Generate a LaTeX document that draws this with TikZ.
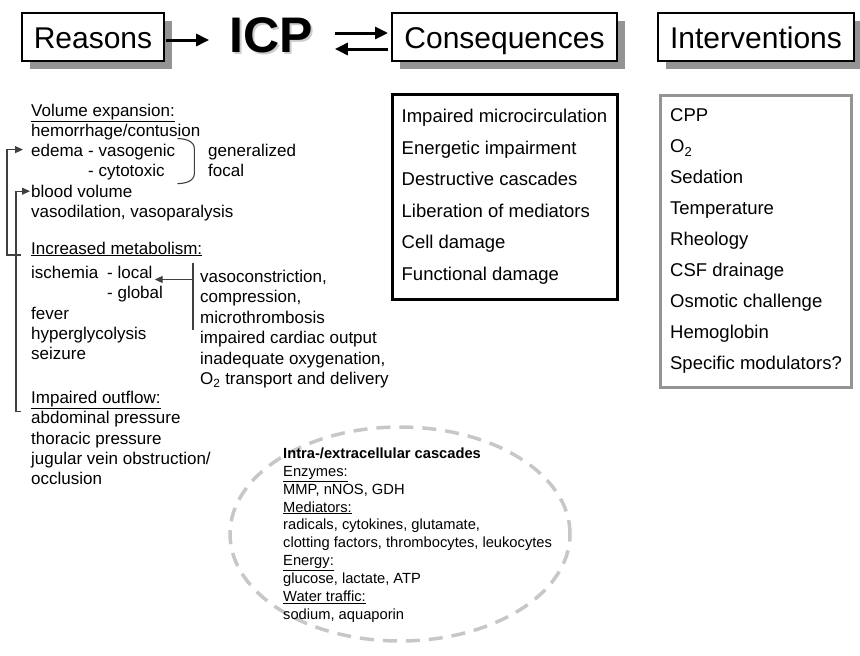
\documentclass[tikz,border=0pt]{standalone}
\usepackage{fontspec}
\setmainfont{Liberation Sans}
\usetikzlibrary{positioning, arrows.meta, shapes.geometric, shadows, calc}

\begin{document}
\begin{tikzpicture}[
    x=1pt, y=-1pt,
    headbox/.style={rectangle, draw, line width=2pt, fill=white, minimum height=48pt, inner sep=0pt,
        text height=24pt, text depth=2pt, font=\fontsize{30}{36}\selectfont,
        drop shadow={shadow xshift=8pt, shadow yshift=-8pt, fill=black!42, opacity=1}},
    listbox/.style={rectangle, draw, line width=3pt, align=left, inner xsep=9pt},
    icpfont/.style={inner sep=0pt, font=\fontsize{50}{60}\selectfont\bfseries},
    txt/.style={anchor=base west, inner sep=0pt, font=\fontsize{17}{20.3}\selectfont},
    conn/.style={draw=black!75, line width=1.1pt},
    conntip/.style={-{Triangle[length=8pt, width=7pt]}},
    bigarrow/.style={line width=3pt, -{Triangle[length=13pt, width=12pt]}},
    cascring/.style={ellipse, draw=black!22, line width=3.5pt, dash pattern=on 14pt off 9pt}
]
\useasboundingbox (0,0) rectangle (860,656);

% Header row
\node[headbox, minimum width=142pt] (reasons) at (93,37) {Reasons};
\node[icpfont, text=black!20] (icpshadow) at (273,37) {ICP};
\node[icpfont] (icp) at (271,35) {ICP};
\node[headbox, minimum width=225pt] (conshead) at (504.5,37) {Consequences};
\node[headbox, minimum width=196pt] (inthead) at (756,37) {Interventions};

\draw[bigarrow] ($(reasons.east)+(1,3)$) -- ($(icp.west |- reasons.east)+(-20,3)$);
\draw[bigarrow] ($(icp.east |- conshead.west)+(22,-4)$) -- ($(conshead.west)+(-3,-4)$);
\draw[bigarrow] ($(conshead.west)+(-3,12)$) -- ($(icp.east |- conshead.west)+(22,12)$);

% Consequences and interventions
\node[listbox, minimum width=225pt, inner ysep=15pt, font=\fontsize{18.5}{31.5}\selectfont,
    below=31pt of conshead] (cons) {Impaired microcirculation\\ Energetic impairment\\ Destructive cascades\\ Liberation of mediators\\ Cell damage\\ Functional damage};
\node[listbox, draw=black!42, minimum width=191pt, inner ysep=13.5pt, font=\fontsize{18.5}{31}\selectfont,
    below=32pt of inthead] (interv) {CPP\\ O\textsubscript{2}\\ Sedation\\ Temperature\\ Rheology\\ CSF drainage\\ Osmotic challenge\\ Hemoglobin\\ Specific modulators?};

% Reasons: volume expansion
\node[txt] (volexp) at (31,116) {\underline{Volume expansion:}};
\node[txt] (hemo) at (31,136.3) {hemorrhage/contusion};
\node[txt] (edema) at (31,156.6) {edema};
\node[txt] (vasog) at (88,156.6) {- vasogenic};
\node[txt] (cytox) at (88,176.9) {- cytotoxic};
\node[txt] (gener) at (208,156.6) {generalized};
\node[txt] (focal) at (208,176.9) {focal};
\node[txt] (blood) at (31,197.2) {blood volume};
\node[txt] (vasod) at (31,217.5) {vasodilation, vasoparalysis};

% Reasons: increased metabolism
\node[txt] (incmet) at (31,254) {\underline{Increased metabolism:}};
\node[txt] (ischem) at (31,278.5) {ischemia};
\node[txt] (local) at (107,278.5) {- local};
\node[txt] (global) at (107,298.8) {- global};
\node[txt] (fever) at (31,319.1) {fever};
\node[txt] (hyper) at (31,339.4) {hyperglycolysis};
\node[txt] (seizure) at (31,359.7) {seizure};

\node[txt] (vasoc) at (200,282) {vasoconstriction,};
\node[txt] (compr) at (200,302.5) {compression,};
\node[txt] (micro) at (200,323) {microthrombosis};
\node[txt] (cardiac) at (200,343.5) {impaired cardiac output};
\node[txt] (oxygen) at (200,364) {inadequate oxygenation,};
\node[txt] (transp) at (200,384.5) {O\textsubscript{2} transport and delivery};

% Reasons: impaired outflow
\node[txt] (outflow) at (31,403.5) {\underline{Impaired outflow:}};
\node[txt] (abdom) at (31,423.8) {abdominal pressure};
\node[txt] (thorac) at (31,444.1) {thoracic pressure};
\node[txt] (jugular) at (31,464.4) {jugular vein obstruction/};
\node[txt] (occl) at (31,484.7) {occlusion};

% Links on the left
\draw[conn] ([xshift=2pt, yshift=18pt]vasog.base east) to[out=0, in=90] ++(17,10) -- ++(0,25) to[out=-90, in=0] ++(-17,10);
\draw[conn, conntip] ([xshift=-10pt, yshift=-1pt]incmet.base west) -- ++(-14,0) |- ([xshift=-8pt, yshift=7pt]edema.base west);
\draw[conn, conntip] ([xshift=-10pt, yshift=-8pt]outflow.base west) -- ++(-5,0) |- ([xshift=-1pt, yshift=6pt]blood.base west);

\coordinate (vtop) at ([xshift=-7pt, yshift=19pt]vasoc.base west);
\coordinate (vbot) at ([xshift=-7pt, yshift=-7pt]micro.base west);
\coordinate (localtip) at ([xshift=2pt, yshift=-1pt]local.base east);
\draw[conn] (vtop) -- (vbot);
\draw[conn, conntip] (vtop |- localtip) -- (localtip);

% Cascades
\node[cascring, minimum width=340pt, minimum height=214pt] (casc) at (400,534) {};
\node[anchor=north west, inner sep=0pt, align=left, font=\fontsize{14.7}{17.9}\selectfont] (casctext) at ([xshift=-117pt, yshift=86.5pt]casc.center) {\textbf{Intra-/extracellular cascades}\\ \underline{Enzymes:}\\ MMP, nNOS, GDH\\ \underline{Mediators:}\\ radicals, cytokines, glutamate,\\ clotting factors, thrombocytes, leukocytes\\ \underline{Energy:}\\ glucose, lactate, ATP\\ \underline{Water traffic:}\\ sodium, aquaporin};

\end{tikzpicture}
\end{document}
